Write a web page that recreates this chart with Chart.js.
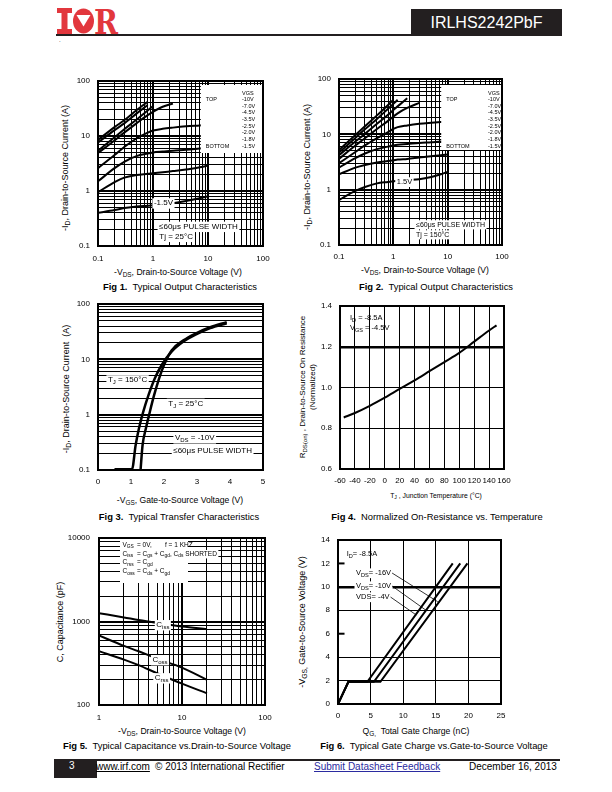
<!DOCTYPE html>
<html>
<head>
<meta charset="utf-8">
<script src="https://cdn.jsdelivr.net/npm/chart.js@4.4.1/dist/chart.umd.min.js"></script>
<style>
  body { margin: 0; background: #fff; color: #000; font-family: "Liberation Sans", Arial, Helvetica, sans-serif; }
  #page { position: relative; width: 612px; height: 792px; overflow: hidden; }
  canvas { position: absolute; }
  .t { position: absolute; white-space: nowrap; line-height: 1; transform: translate(-50%, -50%); }
  .v { position: absolute; white-space: nowrap; line-height: 1; transform: translate(-50%, -50%) rotate(-90deg); }
  .l { position: absolute; white-space: nowrap; line-height: 1; }
  sub { font-size: 75%; vertical-align: -0.35em; line-height: 0; }
  .ax { font-size: 8.6px; }
  .v.ax { font-size: 9px; }
  .cap { font-size: 9.4px; }
  .foot { font-size: 10px; top: 760px; }
</style>
</head>
<body>
<div id="page">
  <!-- header -->
  <svg style="position:absolute;left:57px;top:8px" width="62" height="26" viewBox="0 0 62 26">
    <g fill="#e2373d">
      <rect x="0" y="0" width="15" height="5"/>
      <rect x="4.5" y="0" width="6" height="26"/>
      <rect x="0" y="21" width="15" height="5"/>
      <ellipse cx="26.5" cy="13" rx="10.5" ry="12.5"/>
      <text x="37" y="25.5" font-family="DejaVu Serif" font-weight="bold" font-size="34" textLength="24" lengthAdjust="spacingAndGlyphs">R</text>
    </g>
    <polygon points="19.5,7 33.5,7 26.5,18.5" fill="#fff"/>
  </svg>
  <div style="position:absolute;left:56px;top:34px;width:356px;height:2px;background:#231f20"></div>
  <div style="position:absolute;left:411px;top:9px;width:151px;height:27px;background:#231f20;color:#fff;font-size:16px;line-height:27px;text-align:center">IRLHS2242PbF</div>
  <div class="l" style="left:59px;top:37px;font-size:6px">.</div>

  <!-- Fig 1 -->
  <div class="v ax" style="left:65px;top:168px">-I<sub>D</sub>, Drain-to-Source Current (A)</div>
  <div class="t ax" style="left:178px;top:272px">-V<sub>DS</sub>, Drain-to-Source Voltage (V)</div>
  <div class="t cap" style="left:180px;top:287px"><b>Fig 1.</b>&nbsp; Typical Output Characteristics</div>

  <!-- Fig 2 -->
  <div class="v ax" style="left:307px;top:167px">-I<sub>D</sub>, Drain-to-Source Current (A)</div>
  <div class="t ax" style="left:425px;top:270px">-V<sub>DS</sub>, Drain-to-Source Voltage (V)</div>
  <div class="t cap" style="left:436px;top:287px"><b>Fig 2.</b>&nbsp; Typical Output Characteristics</div>

  <!-- Fig 3 -->
  <div class="v ax" style="left:66px;top:389px">-I<sub>D</sub>, Drain-to-Source Current&nbsp; (A)</div>
  <div class="t ax" style="left:180px;top:500px">-V<sub>GS</sub>, Gate-to-Source Voltage (V)</div>
  <div class="t cap" style="left:179px;top:517px"><b>Fig 3.</b>&nbsp; Typical Transfer Characteristics</div>

  <!-- Fig 4 -->
  <div class="v" style="left:303px;top:387px;font-size:8px">R<sub>DS(on)</sub> , Drain-to-Source On Resistance</div>
  <div class="v" style="left:313px;top:387px;font-size:8px">(Normalized)</div>
  <div class="t" style="left:436px;top:496px;font-size:6.8px">T<sub>J</sub> , Junction Temperature (°C)</div>
  <div class="t cap" style="left:437px;top:517px"><b>Fig 4.</b>&nbsp; Normalized On-Resistance vs. Temperature</div>

  <!-- Fig 5 -->
  <div class="v ax" style="left:60px;top:622px">C, Capacitance (pF)</div>
  <div class="t ax" style="left:182px;top:731px">-V<sub>DS</sub>, Drain-to-Source Voltage (V)</div>
  <div class="t cap" style="left:177px;top:746px"><b>Fig 5.</b>&nbsp; Typical Capacitance vs.Drain-to-Source Voltage</div>

  <!-- Fig 6 -->
  <div class="v ax" style="left:302px;top:622px">-V<sub>GS,</sub> Gate-to-Source Voltage (V)</div>
  <div class="t ax" style="left:416px;top:731px">Q<sub>G,</sub>&nbsp; Total Gate Charge (nC)</div>
  <div class="t cap" style="left:434px;top:746px"><b>Fig 6.</b>&nbsp; Typical Gate Charge vs.Gate-to-Source Voltage</div>

  <!-- footer -->
  <div style="position:absolute;left:54px;top:759px;width:43px;height:19px;background:#231f20"></div>
  <div class="l foot" style="left:69px;top:761px;color:#fff">3</div>
  <div style="position:absolute;left:97px;top:759px;width:463px;height:2px;background:#231f20"></div>
  <div class="l foot" style="left:96px;top:762px;text-decoration:underline">www.irf.com</div>
  <div class="l foot" style="left:155px;top:762px">© 2013 International Rectifier</div>
  <div class="l foot" style="left:314px;top:762px;color:#2b2ba0;text-decoration:underline">Submit Datasheet Feedback</div>
  <div class="l foot" style="left:469px;top:762px">December 16, 2013</div>
</div>

<script>
const FONT = '"Liberation Sans", Arial, Helvetica, sans-serif'

// ---------- data ----------
const vgsSteps = ['-10V', '-7.0V', '-4.5V', '-3.5V', '-2.5V', '-2.0V', '-1.8V', '-1.5V']
const logLabels01 = [0.1, 1, 10, 100]

// Fig 1, Tj = 25C
const fig1Vds = [0.1, 0.2, 0.3, 0.5, 0.8, 1, 1.5, 2.3, 4, 7, 10]
const fig1Id10 = [8.5, 14.5, 19.3, 29.3, 42, null, null, null, null, null, null]
const fig1Id7 = [7.6, 12.8, 17, 25.5, 36.5, null, null, null, null, null, null]
const fig1Id45 = [5.4, 9.5, 13.3, 19.8, 29, 35, null, null, null, null, null]
const fig1Id35 = [4.9, 8.3, 11.5, 17, 24, 27.5, 34, 39, null, null, null]
const fig1Id25 = [2.6, 4.5, 6.3, 9, 11.5, 12.6, 13.5, 14.2, 15, 15.6, 16]
const fig1Id20 = [1.5, 2.6, 3.4, 4.3, 4.8, 5.0, 5.2, 5.4, 5.6, 5.9, 6.1]
const fig1Id18 = [0.95, 1.45, 1.75, 1.95, 2.05, 2.1, 2.2, 2.3, 2.45, 2.7, 2.9]
const fig1Id15 = [0.4, 0.45, 0.49, 0.52, 0.54, 0.55, 0.57, 0.6, 0.66, 0.74, 0.8]

// Fig 2, Tj = 150C
const fig2Vds = [0.1, 0.2, 0.3, 0.5, 0.8, 1, 1.2, 1.8, 3, 5, 7.5, 10]
const fig2Id10 = [5.2, 9.7, 14, 22, 34, 42, null, null, null, null, null, null]
const fig2Id7 = [4.7, 8.6, 12.3, 19, 29, 35.5, 42, null, null, null, null, null]
const fig2Id45 = [4.2, 7.4, 10.2, 15.5, 22.5, 27.5, 32, 45, null, null, null, null]
const fig2Id35 = [3.6, 6.3, 8.5, 12.5, 17.5, 21, 24, 30, 37, null, null, null]
const fig2Id25 = [3.0, 4.8, 6.3, 8.5, 11, 12.5, 13.5, 14.5, 15.5, 16.2, 16.7, 17]
const fig2Id20 = [2.5, 3.7, 4.5, 5.4, 6.0, 6.3, 6.5, 6.7, 7.0, 7.2, 7.4, 7.5]
const fig2Id18 = [1.9, 2.5, 2.8, 3.1, 3.3, 3.4, 3.5, 3.6, 3.8, 4.0, 4.2, 4.3]
const fig2Id15 = [0.65, 0.95, 1.12, 1.3, 1.38, 1.42, 1.45, 1.5, 1.55, 1.7, 1.9, 2.1]

// Fig 3, transfer
const fig3Vgs150 = [0.5, 1.03, 1.14, 1.24, 1.37, 1.53, 1.72, 1.93, 2.23, 2.59, 2.94, 3.4, 3.9]
const fig3Id150 = [0.103, 0.103, 0.28, 0.56, 1.12, 2.25, 4.5, 7.9, 13.8, 21, 27.6, 36.6, 45]
const fig3Vgs25 = [1.29, 1.35, 1.45, 1.57, 1.70, 1.85, 2.0, 2.23, 2.59, 2.94, 3.4, 3.9]
const fig3Id25 = [0.1, 0.28, 0.56, 1.12, 2.25, 4.5, 7.9, 14.5, 22, 29, 38, 47]
const fig3VgsTicks = [0, 1, 2, 3, 4, 5]

// Fig 4, normalized RDS(on)
const fig4Temp = [-55, -40, -20, 0, 20, 40, 60, 80, 100, 120, 140, 150]
const fig4Rds = [0.853, 0.875, 0.91, 0.95, 0.993, 1.035, 1.08, 1.125, 1.17, 1.225, 1.28, 1.305]
const fig4TempTicks = [-60, -40, -20, 0, 20, 40, 60, 80, 100, 120, 140, 160]
const fig4RdsTicks = [0.6, 0.8, 1.0, 1.2, 1.4]

// Fig 5, capacitance
const fig5Vds = [1, 2, 3, 5, 10, 20]
const fig5Ciss = [1260, 1120, 1040, 960, 870, 810]
const fig5Coss = [680, 510, 440, 360, 280, 200]
const fig5Crss = [440, 350, 300, 240, 180, 138]
const fig5XLabels = [1, 10, 100]
const fig5YLabels = [100, 1000, 10000]

// Fig 6, gate charge
const fig6Vgs = [0, 1.9, 1.9, 12]
const fig6Qg4 = [0, 1.6, 4.5, 17.6]
const fig6Qg10 = [0, 1.6, 5.5, 18.75]
const fig6Qg16 = [0, 1.6, 6.5, 19.85]
const fig6QTicks = [0, 5, 10, 15, 20, 25]
const fig6VTicks = [0, 2, 4, 6, 8, 10, 12, 14]

// ---------- helpers ----------
const PAD_L = 42, PAD_T = 6, PAD_R = 10, PAD_B = 24

function pts(xs, ys) {
  return xs.map((x, i) => ({ x, y: ys[i] })).filter(p => p.y !== null)
}

function isDecade(v) {
  const l = Math.log10(v)
  return Math.abs(l - Math.round(l)) < 1e-9
}

function logGrid(min, max) {
  const out = []
  for (let e = Math.round(Math.log10(min)); e < Math.round(Math.log10(max)); e++) {
    for (let k = 1; k < 10; k++) out.push(k * Math.pow(10, e))
  }
  out.push(max)
  return out
}

function tickFont(size) {
  return { family: FONT, size: size || 8 }
}

function logAxis(min, max, labels, pad) {
  return {
    type: 'logarithmic', min, max,
    afterBuildTicks: s => { s.ticks = logGrid(min, max).map(v => ({ value: v })) },
    ticks: {
      autoSkip: false, maxRotation: 0, color: '#000', font: tickFont(), padding: pad,
      callback: v => {
        const hit = labels.find(l => Math.abs(l - v) < l * 1e-9)
        return hit === undefined ? '' : String(hit)
      }
    },
    grid: { color: '#000', drawTicks: false, lineWidth: c => (c.tick && isDecade(c.tick.value)) ? 2 : 1 },
    border: { display: false }
  }
}

function linAxis(ticks, pad, fmt, grid) {
  return {
    type: 'linear', min: ticks[0], max: ticks[ticks.length - 1],
    afterBuildTicks: s => { s.ticks = ticks.map(v => ({ value: v })) },
    ticks: { autoSkip: false, maxRotation: 0, color: '#000', font: tickFont(), padding: pad, callback: fmt || (v => String(v)) },
    grid: Object.assign({ color: '#000', drawTicks: false, lineWidth: 1 }, grid || {}),
    border: { display: false }
  }
}

function line(xs, ys, extra) {
  return Object.assign({
    data: pts(xs, ys), borderColor: '#000', borderWidth: 2, pointRadius: 0,
    fill: false, cubicInterpolationMode: 'monotone'
  }, extra || {})
}

// text with optional subscripts: parts = [[text, isSub], ...]
function rich(ctx, x, y, parts, size, align, bg) {
  if (typeof parts === 'string') parts = [[parts, 0]]
  const f = p => (p[1] ? size * 0.75 : size) + 'px ' + FONT
  let w = 0
  const ws = parts.map(p => { ctx.font = f(p); const m = ctx.measureText(p[0]).width; w += m; return m })
  let sx = align === 'center' ? x - w / 2 : align === 'right' ? x - w : x
  ctx.save()
  if (bg) { ctx.fillStyle = '#fff'; ctx.fillRect(sx - 1.5, y - size * 0.62, w + 3, size * 1.3) }
  ctx.fillStyle = '#000'
  ctx.textBaseline = 'middle'
  ctx.textAlign = 'left'
  parts.forEach((p, i) => {
    ctx.font = f(p)
    ctx.fillText(p[0], sx, y + (p[1] ? size * 0.32 : 0))
    sx += ws[i]
  })
  ctx.restore()
  return sx
}

function at(chart, x, y) {
  return [chart.scales.x.getPixelForValue(x), chart.scales.y.getPixelForValue(y)]
}

function note(chart, x, y, parts, size, align, bg) {
  const p = at(chart, x, y)
  return rich(chart.ctx, p[0], p[1], parts, size, align, bg)
}

function frame(extras) {
  return {
    id: 'frame',
    afterDatasetsDraw(chart) {
      const ctx = chart.ctx
      if (extras) extras(chart, ctx)
      const a = chart.chartArea
      ctx.save()
      ctx.strokeStyle = '#000'
      ctx.lineWidth = 2
      ctx.strokeRect(a.left, a.top, a.right - a.left, a.bottom - a.top)
      ctx.restore()
    }
  }
}

// VGS step list box used in Fig 1 and Fig 2
function vgsBox(chart, ctx, x0, top, bottom, col) {
  const a = chart.chartArea
  const left = chart.scales.x.getPixelForValue(x0)
  ctx.fillStyle = '#fff'
  ctx.fillRect(left, a.top + top, a.right - left, bottom - top)
  const vx = a.right - col
  rich(ctx, vx, a.top + top + 8, 'VGS', 5.5, 'left')
  rich(ctx, left + 5, a.top + top + 14.3, 'TOP', 5.5, 'left')
  vgsSteps.forEach((s, i) => rich(ctx, vx, a.top + top + 14.3 + 6.7 * i, s, 5.5, 'left'))
  rich(ctx, left + 5, a.top + top + 14.3 + 6.7 * 7, 'BOTTOM', 5.5, 'left')
}

function makeChart(box, datasets, scales, extras) {
  const c = document.createElement('canvas')
  const w = box.r - box.l + PAD_L + PAD_R
  const h = box.b - box.t + PAD_T + PAD_B
  c.width = w
  c.height = h
  c.style.left = (box.l - PAD_L) + 'px'
  c.style.top = (box.t - PAD_T) + 'px'
  c.style.width = w + 'px'
  c.style.height = h + 'px'
  document.getElementById('page').appendChild(c)
  // fixed axis sizes so the plot area lands exactly on the box
  scales.x.afterFit = s => { s.height = PAD_B; s.paddingLeft = 0; s.paddingRight = 0 }
  scales.y.afterFit = s => { s.width = PAD_L; s.paddingTop = 0; s.paddingBottom = 0 }
  return new Chart(c, {
    type: 'line',
    data: { datasets },
    options: {
      responsive: false, animation: false, devicePixelRatio: 1,
      layout: { padding: { left: 0, top: PAD_T, right: PAD_R, bottom: 0 } },
      plugins: { legend: { display: false }, tooltip: { enabled: false } },
      scales
    },
    plugins: [frame(extras)]
  })
}

// ---------- Fig 1 ----------
makeChart({ l: 98, t: 81, r: 263, b: 246 },
  [fig1Id10, fig1Id7, fig1Id45, fig1Id35, fig1Id25, fig1Id20, fig1Id18, fig1Id15].map(ys => line(fig1Vds, ys)),
  { x: logAxis(0.1, 100, logLabels01, 8), y: logAxis(0.1, 100, logLabels01, 8) },
  (chart, ctx) => {
    vgsBox(chart, ctx, 7.4, 4, 72, 21)
    note(chart, 1.55, 0.6, '-1.5V', 8, 'center', true)
    note(chart, 1.29, 0.225, '\u226460\u03bcs PULSE WIDTH', 8, 'left', true)
    note(chart, 1.3, 0.148, 'Tj = 25\u00b0C', 8, 'left', true)
  })

// ---------- Fig 2 ----------
makeChart({ l: 339, t: 79, r: 502, b: 245 },
  [fig2Id10, fig2Id7, fig2Id45, fig2Id35, fig2Id25, fig2Id20, fig2Id18, fig2Id15].map(ys => line(fig2Vds, ys)),
  { x: logAxis(0.1, 100, logLabels01, 7), y: logAxis(0.1, 100, logLabels01, 8) },
  (chart, ctx) => {
    vgsBox(chart, ctx, 7.6, 6, 71, 14)
    note(chart, 1.6, 1.38, '1.5V', 7.5, 'center', true)
    note(chart, 2.62, 0.234, '\u226460\u03bcs PULSE WIDTH', 7, 'left', true)
    note(chart, 2.62, 0.154, 'Tj = 150\u00b0C', 7, 'left', true)
  })

// ---------- Fig 3 ----------
makeChart({ l: 98, t: 304, r: 263, b: 470 },
  [line(fig3Vgs150, fig3Id150, { borderWidth: 2.5 }), line(fig3Vgs25, fig3Id25, { borderWidth: 2.5 })],
  { x: linAxis(fig3VgsTicks, 7, null, { display: false }), y: logAxis(0.1, 100, logLabels01, 8) },
  (chart, ctx) => {
    note(chart, 0.3, 4.2, [['T', 0], ['J', 1], [' = 150\u00b0C', 0]], 8, 'left', true)
    note(chart, 2.13, 1.58, [['T', 0], ['J', 1], [' = 25\u00b0C', 0]], 8, 'left', true)
    note(chart, 2.33, 0.377, [['V', 0], ['DS', 1], [' = -10V', 0]], 8, 'left', true)
    note(chart, 2.28, 0.225, '\u226460\u03bcs PULSE WIDTH', 8, 'left', true)
  })

// ---------- Fig 4 ----------
makeChart({ l: 340, t: 306, r: 504, b: 469 },
  [line(fig4Temp, fig4Rds)],
  {
    x: linAxis(fig4TempTicks, 7),
    y: linAxis(fig4RdsTicks, 8, v => v.toFixed(1), { lineWidth: c => (c.tick && Math.abs(c.tick.value - 1.2) < 1e-6) ? 2.5 : 1 })
  },
  (chart, ctx) => {
    note(chart, -46.7, 1.341, [['I', 0], ['D', 1], [' = -8.5A', 0]], 7.5, 'left')
    note(chart, -46.7, 1.29, [['V', 0], ['GS', 1], [' = -4.5V', 0]], 7.5, 'left')
  })

// ---------- Fig 5 ----------
makeChart({ l: 99, t: 538, r: 265, b: 705 },
  [line(fig5Vds, fig5Ciss), line(fig5Vds, fig5Coss), line(fig5Vds, fig5Crss)],
  { x: logAxis(1, 100, fig5XLabels, 8), y: logAxis(100, 10000, fig5YLabels, 9) },
  (chart, ctx) => {
    const a = chart.chartArea
    const x0 = a.left + 21, fs = 6.5
    ctx.fillStyle = '#fff'
    ctx.fillRect(x0, a.top, 68, 45)
    const c1 = x0 + 2.5, c2 = x0 + 17, c3 = x0 + 45
    rich(ctx, c1, a.top + 7, [['V', 0], ['GS', 1]], fs, 'left')
    rich(ctx, c2, a.top + 7, '= 0V,', fs, 'left')
    rich(ctx, c3, a.top + 7, 'f = 1 KHZ', fs, 'left')
    rich(ctx, c1, a.top + 16, [['C', 0], ['iss', 1]], fs, 'left')
    rich(ctx, c2, a.top + 16, [['= C', 0], ['gs', 1], [' + C', 0], ['gd', 1], [', C', 0], ['ds', 1], [' SHORTED', 0]], fs, 'left', true)
    rich(ctx, c1, a.top + 24.7, [['C', 0], ['rss', 1]], fs, 'left')
    rich(ctx, c2, a.top + 24.7, [['= C', 0], ['gd', 1]], fs, 'left')
    rich(ctx, c1, a.top + 33.7, [['C', 0], ['oss', 1]], fs, 'left')
    rich(ctx, c2, a.top + 33.7, [['= C', 0], ['ds', 1], [' + C', 0], ['gd', 1]], fs, 'left')
    note(chart, 4.9, 908, [['C', 0], ['iss', 1]], 8, 'left', true)
    note(chart, 4.4, 346, [['C', 0], ['oss', 1]], 8, 'left', true)
    note(chart, 4.7, 210, [['C', 0], ['rss', 1]], 8, 'left', true)
  })

// ---------- Fig 6 ----------
makeChart({ l: 338, t: 540, r: 501, b: 704 },
  [line(fig6Qg4, fig6Vgs, { tension: 0, cubicInterpolationMode: 'default' }),
   line(fig6Qg10, fig6Vgs, { tension: 0, cubicInterpolationMode: 'default' }),
   line(fig6Qg16, fig6Vgs, { tension: 0, cubicInterpolationMode: 'default' })],
  {
    x: linAxis(fig6QTicks, 7),
    y: linAxis(fig6VTicks, 8, null, {
      lineWidth: c => (c.tick && c.tick.value === 10) ? 2.5 : 1,
      color: c => (c.tick && (c.tick.value === 6 || c.tick.value === 12)) ? 'rgba(0,0,0,0)' : '#000'
    })
  },
  (chart, ctx) => {
    ctx.save()
    ctx.strokeStyle = '#000'
    ctx.lineWidth = 2
    ;[6, 12].forEach(v => {
      const p0 = at(chart, 0, v), p1 = at(chart, 1, v)
      ctx.beginPath(); ctx.moveTo(p0[0], p0[1]); ctx.lineTo(p1[0], p1[1]); ctx.stroke()
    })
    ctx.restore()
    note(chart, 1.33, 12.8, [['I', 0], ['D', 1], ['= -8.5A', 0]], 7.5, 'left')
    const leaders = [
      [[['V', 0], ['DS', 1], ['= -16V', 0]], 11.18, 15.3, 8.73],
      [[['V', 0], ['DS', 1], ['= -10V', 0]], 10.07, 13.5, 8.0],
      [[['VDS= -4V', 0]], 9.13, 12.0, 7.6]
    ]
    leaders.forEach(d => {
      const end = note(chart, 2.76, d[1], d[0], 7.5, 'left', true)
      const p0 = at(chart, 2.76, d[1]), p1 = at(chart, d[2], d[3])
      ctx.save()
      ctx.strokeStyle = '#000'
      ctx.lineWidth = 0.8
      ctx.beginPath(); ctx.moveTo(end + 1, p0[1]); ctx.lineTo(p1[0], p1[1]); ctx.stroke()
      ctx.restore()
    })
  })
</script>
</body>
</html>
